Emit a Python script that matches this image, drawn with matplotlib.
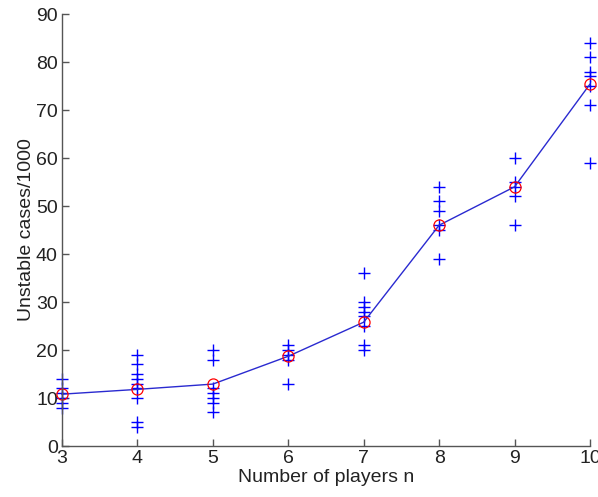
import matplotlib
matplotlib.use("Agg")
import matplotlib.pyplot as plt

# players per game and the unstable-case counts of each trial
players = [3, 4, 5, 6, 7, 8, 9, 10]
trials = [
    [14, 12, 11, 10, 9, 8],
    [19, 17, 15, 14, 13, 12, 10, 5, 4],
    [20, 18, 12, 11, 10, 9, 7],
    [21, 20, 19, 18, 13],
    [36, 30, 29, 28, 27, 25, 21, 20],
    [54, 51, 49, 46, 45, 39],
    [60, 55, 54, 52, 46],
    [84, 81, 78, 77, 75, 71, 59],
]
# averaged counts drawn as circles joined by a line
means = [10.8, 11.8, 12.9, 18.7, 25.8, 46.0, 54.0, 75.4]

plt.rcParams["font.family"] = ["Liberation Sans", "DejaVu Sans"]

fig = plt.figure(figsize=(5.98, 4.97), dpi=100)
ax = fig.add_axes([0.1037, 0.1026, 0.8829, 0.8692])

for n, vals in zip(players, trials):
    ax.plot([n] * len(vals), vals, linestyle="none", marker="+",
            color="#0000ff", markersize=9, markeredgewidth=1.0, clip_on=False)

ax.plot(players, means, color="#2a2ad0", linewidth=1.0, clip_on=False)
ax.plot(players, means, linestyle="none", marker="o", markersize=8,
        markerfacecolor="none", markeredgecolor="#ff0000", markeredgewidth=0.9,
        clip_on=False)

ax.set_xlim(3, 10)
ax.set_ylim(0, 90)
ax.set_xticks(range(3, 11))
ax.set_yticks(range(0, 91, 10))
ax.spines["top"].set_visible(False)
ax.spines["right"].set_visible(False)
for side in ("left", "bottom"):
    ax.spines[side].set_color("#555555")
    ax.spines[side].set_linewidth(1.0)
ax.tick_params(direction="in", length=5, width=1, colors="#555555",
               labelcolor="#222222", labelsize=14, pad=3)
ax.set_xlabel("Number of players n", fontsize=14, color="#222222", labelpad=1)
ax.set_ylabel("Unstable cases/1000", fontsize=14, color="#222222", labelpad=1)

fig.savefig("out.png", dpi=100)
